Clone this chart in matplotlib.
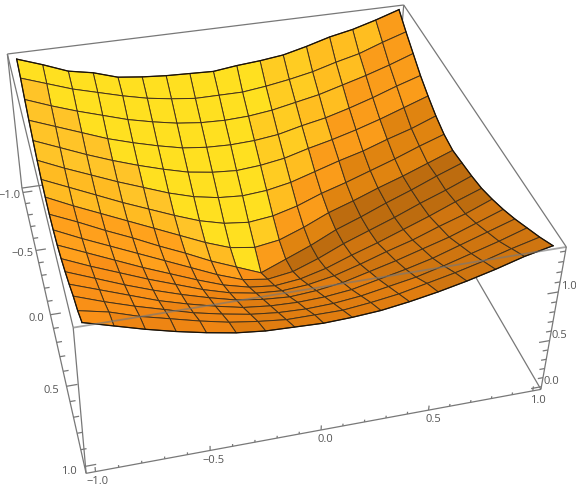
import matplotlib
matplotlib.use('Agg')
import matplotlib.pyplot as plt
import numpy as np

plt.rcParams['font.family'] = ['Open Sans', 'DejaVu Sans']

# ~~~~~~~~~~~~~~~~~~~~~~~~~~~~~~~~~~~~~~~~~~~~~~~~~~~~~~~~~~~~~~~~~~~~~~~~~~~~~

grid_x = [-1.0, -0.875, -0.75, -0.625, -0.5, -0.375, -0.25, -0.125, 0.0,
          0.125, 0.25, 0.375, 0.5, 0.625, 0.75, 0.875, 1.0]
grid_y = grid_x

heights = [
    [1.42, 1.33, 1.23, 1.18, 1.10, 1.07, 1.05, 1.04, 1.03, 1.06, 1.08, 1.11, 1.17, 1.24, 1.29, 1.36, 1.44],
    [1.36, 1.27, 1.18, 1.11, 1.04, 0.98, 0.94, 0.91, 0.91, 0.91, 0.94, 0.98, 1.03, 1.10, 1.16, 1.25, 1.33],
    [1.28, 1.18, 1.09, 1.01, 0.93, 0.87, 0.82, 0.79, 0.78, 0.79, 0.82, 0.87, 0.92, 0.99, 1.06, 1.14, 1.23],
    [1.21, 1.11, 1.01, 0.91, 0.83, 0.76, 0.70, 0.67, 0.66, 0.67, 0.70, 0.76, 0.81, 0.88, 0.96, 1.05, 1.13],
    [1.15, 1.04, 0.93, 0.83, 0.74, 0.66, 0.59, 0.55, 0.53, 0.55, 0.59, 0.66, 0.72, 0.79, 0.87, 0.96, 1.05],
    [1.10, 0.98, 0.87, 0.76, 0.66, 0.56, 0.48, 0.43, 0.41, 0.43, 0.48, 0.56, 0.64, 0.71, 0.80, 0.88, 0.98],
    [1.06, 0.94, 0.82, 0.70, 0.59, 0.48, 0.38, 0.31, 0.28, 0.31, 0.38, 0.48, 0.56, 0.65, 0.74, 0.84, 0.93],
    [1.04, 0.91, 0.79, 0.67, 0.55, 0.43, 0.31, 0.21, 0.17, 0.21, 0.31, 0.43, 0.52, 0.62, 0.71, 0.81, 0.91],
    [1.03, 0.91, 0.78, 0.66, 0.53, 0.41, 0.28, 0.17, 0.06, 0.17, 0.28, 0.41, 0.51, 0.62, 0.72, 0.83, 0.93],
    [1.04, 0.91, 0.79, 0.67, 0.55, 0.43, 0.31, 0.21, 0.17, 0.21, 0.31, 0.43, 0.53, 0.63, 0.74, 0.84, 0.95],
    [1.06, 0.94, 0.82, 0.70, 0.59, 0.48, 0.38, 0.31, 0.28, 0.31, 0.38, 0.48, 0.57, 0.67, 0.77, 0.88, 0.98],
    [1.10, 0.98, 0.87, 0.76, 0.66, 0.56, 0.48, 0.43, 0.41, 0.43, 0.48, 0.56, 0.65, 0.73, 0.83, 0.92, 1.03],
    [1.15, 1.04, 0.93, 0.83, 0.74, 0.66, 0.59, 0.55, 0.53, 0.55, 0.59, 0.66, 0.73, 0.81, 0.89, 0.99, 1.09],
    [1.21, 1.11, 1.01, 0.91, 0.83, 0.76, 0.70, 0.67, 0.66, 0.67, 0.70, 0.76, 0.82, 0.89, 0.98, 1.07, 1.16],
    [1.28, 1.18, 1.09, 1.01, 0.93, 0.87, 0.82, 0.79, 0.78, 0.79, 0.82, 0.87, 0.92, 0.99, 1.07, 1.15, 1.24],
    [1.33, 1.27, 1.18, 1.11, 1.04, 0.98, 0.94, 0.91, 0.91, 0.91, 0.94, 0.98, 1.04, 1.10, 1.17, 1.25, 1.32],
    [1.41, 1.33, 1.25, 1.18, 1.12, 1.07, 1.04, 1.03, 1.02, 1.03, 1.05, 1.09, 1.14, 1.20, 1.27, 1.35, 1.41],
]

major_ticks = [-1.0, -0.5, 0.0, 0.5, 1.0]
minor_ticks = [-0.9, -0.8, -0.7, -0.6, -0.4, -0.3, -0.2, -0.1, 0.1, 0.2, 0.3, 0.4, 0.6, 0.7, 0.8, 0.9]
z_major_ticks = [0.0, 0.5, 1.0]
z_minor_ticks = [0.1, 0.2, 0.3, 0.4, 0.6, 0.7, 0.8, 0.9, 1.1, 1.2, 1.3, 1.4]
xy_end = 1.04
z_low = -0.03
z_top = 1.44

# the lit colour of the surface goes by compass direction around the tip
shade_angles = [-180, -170, -155, -135, -75, -60, -45, -30, -11, 20, 60, 110, 135, 160, 180]
shade_colors = ['#ffa21c', '#ffbb22', '#ffc428', '#ffe020', '#ffcc22', '#ffbe20', '#fa9c1a',
                '#e08410', '#bd6c0f', '#cf7510', '#e07d10', '#ee8513', '#f99017', '#ffa01c']

# ~~~~~~~~~~~~~~~~~~~~~~~~~~~~~~~~~~~~~~~~~~~~~~~~~~~~~~~~~~~~~~~~~~~~~~~~~~~~~

def cell_colors(x, y):
    xc = (x[:-1] + x[1:]) / 2
    yc = (y[:-1] + y[1:]) / 2
    colors = np.empty((len(yc), len(xc)), dtype=object)
    for j, yy in enumerate(yc):
        for i, xx in enumerate(xc):
            angle = np.degrees(np.arctan2(yy, xx))
            k = np.searchsorted(shade_angles, angle, side='right') - 1
            colors[j, i] = shade_colors[min(k, len(shade_colors) - 1)]
    return colors

# ~~~~~~~~~~~~~~~~~~~~~~~~~~~~~~~~~~~~~~~~~~~~~~~~~~~~~~~~~~~~~~~~~~~~~~~~~~~~~

def edge(ax, p, q, **kw):
    ax.plot([p[0], q[0]], [p[1], q[1]], [p[2], q[2]], solid_capstyle='butt', **kw)

# ~~~~~~~~~~~~~~~~~~~~~~~~~~~~~~~~~~~~~~~~~~~~~~~~~~~~~~~~~~~~~~~~~~~~~~~~~~~~~

def main():
    x = np.array(grid_x)
    y = np.array(grid_y)
    z = np.array(heights)
    X, Y = np.meshgrid(x, y)

    fig = plt.figure(figsize=(5.76, 4.87), dpi=100)
    size = 700
    left = 262 - 359.5
    bottom = (487 - 214) - 359.5
    ax = fig.add_axes([left / 576, bottom / 487, size / 576, size / 487],
                      projection='3d', computed_zorder=False)
    ax.set_proj_type('persp', focal_length=0.391)
    ax.set_box_aspect((1, 1, 0.4), zoom=0.892)
    ax.view_init(elev=37.8, azim=-105.3, roll=-0.9)
    e = xy_end
    ax.set_xlim(-e, e)
    ax.set_ylim(e, -e)
    ax.set_zlim(z_low, z_top)
    ax.set_axis_off()

    grey = '#787878'
    box = {'color': grey, 'lw': 0.9}

    # hidden edges go under the surface
    edge(ax, (-e, -e, z_low), (e, -e, z_low), zorder=1, **box)
    edge(ax, (e, -e, z_low), (e, e, z_low), zorder=1, **box)
    edge(ax, (e, -e, z_low), (e, -e, z_top), zorder=1, **box)
    edge(ax, (-e, -e, z_low), (-e, e, z_low), zorder=1, **box)
    edge(ax, (-e, -e, z_low), (-e, -e, z_top), zorder=1, **box)
    edge(ax, (-e, -e, z_top), (e, -e, z_top), zorder=1, **box)
    edge(ax, (-e, -e, z_top), (-e, e, z_top), zorder=1, **box)
    edge(ax, (e, -e, z_top), (e, e, z_top), zorder=1, **box)

    ax.plot_surface(X, Y, z, facecolors=cell_colors(x, y), rstride=1, cstride=1, shade=False,
                    edgecolor='#45321a', linewidth=0.7, antialiased=True, zorder=2)

    # outline of the sheet
    outline = {'color': '#1a1208', 'lw': 0.9, 'zorder': 3}
    ax.plot(x, y[0] * np.ones_like(x), z[0], **outline)
    ax.plot(x, y[-1] * np.ones_like(x), z[-1], **outline)
    ax.plot(x[0] * np.ones_like(y), y, z[:, 0], **outline)
    ax.plot(x[-1] * np.ones_like(y), y, z[:, -1], **outline)

    # near edges sit over the surface
    edge(ax, (-e, e, z_top), (e, e, z_top), color=grey, lw=1.3, alpha=0.65, zorder=4)
    edge(ax, (-e, e, z_low), (e, e, z_low), zorder=4, **box)
    edge(ax, (-e, e, z_low), (-e, e, z_top), zorder=4, **box)
    edge(ax, (e, e, z_low), (e, e, z_top), zorder=4, **box)

    # ticks
    for vals, dx, dz in ((major_ticks, 0.05, 0.05), (minor_ticks, 0.025, 0.025)):
        for v in vals:
            edge(ax, (v, e, z_low), (v, e, z_low + dz), zorder=5, **box)
            edge(ax, (-e, v, z_low), (-e + dx, v, z_low), zorder=5, **box)
    for vals, dx in ((z_major_ticks, 0.05), (z_minor_ticks, 0.025)):
        for v in vals:
            edge(ax, (e, e, v), (e - dx, e, v), zorder=5, **box)

    text = {'color': '#555555', 'fontsize': 8, 'ha': 'center', 'va': 'center', 'zorder': 6}
    for v in major_ticks:
        label = f'{v:.1f}'.replace('-', '\u2212')
        ax.text(v, e + 0.06, z_low, label, **text)
        ax.text(-e - 0.07, v + 0.01, z_low, label, **text)
    for v in z_major_ticks:
        ax.text(e + 0.045, e, v + 0.04, f'{v:.1f}', **text)

    fig.savefig('out.png', dpi=100)

# ~~~~~~~~~~~~~~~~~~~~~~~~~~~~~~~~~~~~~~~~~~~~~~~~~~~~~~~~~~~~~~~~~~~~~~~~~~~~~

if __name__ == '__main__':
    main()
